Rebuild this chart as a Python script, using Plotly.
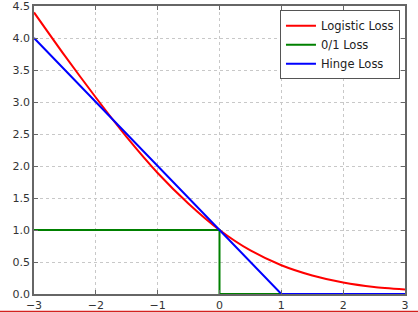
import plotly.graph_objects as go

# Logistic loss
x_log = [-3.0, -2.5, -2.0, -1.5, -1.0, -0.5, 0.0, 0.5, 1.0, 1.5, 2.0, 2.5, 3.0]
y_log = [4.40, 3.72, 3.07, 2.45, 1.89, 1.41, 1.00, 0.68, 0.45, 0.29, 0.18, 0.11, 0.07]

# 0/1 loss
x_01 = [-3, 0, 0, 3]
y_01 = [1, 1, 0, 0]

# Hinge loss
x_hinge = [-3, 1, 3]
y_hinge = [4, 0, 0]

x_ticks = [-3, -2, -1, 0, 1, 2, 3]
x_tick_text = ["\u22123", "\u22122", "\u22121", "0", "1", "2", "3"]
y_ticks = [0.0, 0.5, 1.0, 1.5, 2.0, 2.5, 3.0, 3.5, 4.0, 4.5]
y_tick_text = ["%.1f" % v for v in y_ticks]

FONT = "DejaVu Sans"

fig = go.Figure()
fig.add_trace(go.Scatter(x=x_log, y=y_log, mode="lines", name="Logistic Loss",
                         line=dict(color="#ff0000", width=2, shape="spline", smoothing=0.6)))
fig.add_trace(go.Scatter(x=x_01, y=y_01, mode="lines", name="0/1 Loss",
                         line=dict(color="#008000", width=2)))
fig.add_trace(go.Scatter(x=x_hinge, y=y_hinge, mode="lines", name="Hinge Loss",
                         line=dict(color="#0000ff", width=2)))

axis_common = dict(
    showline=True, linecolor="#666666", linewidth=1.5, mirror="ticks",
    ticks="inside", ticklen=4, tickcolor="#666666",
    showgrid=True, gridcolor="#c8c8c8", griddash="dot", gridwidth=1,
    zeroline=False, automargin=False, ticklabeloverflow="allow",
    tickfont=dict(family=FONT, size=11, color="#333333"),
)

fig.update_layout(
    template="none",
    width=418, height=313,
    margin=dict(l=34, r=13, t=6, b=19),
    paper_bgcolor="white", plot_bgcolor="white",
    xaxis=dict(range=[-3, 3], tickvals=x_ticks, ticktext=x_tick_text, **axis_common),
    yaxis=dict(range=[0, 4.5], tickvals=y_ticks, ticktext=y_tick_text, **axis_common),
    legend=dict(x=0.663, y=0.985, xanchor="left", yanchor="top",
                bgcolor="white", bordercolor="#555555", borderwidth=1,
                font=dict(family=FONT, size=11.5, color="#222222"),
                tracegroupgap=0),
    showlegend=True,
    shapes=[dict(type="line", xref="paper", yref="paper",
                 x0=-0.2, x1=1.2, y0=-0.0608, y1=-0.0608,
                 line=dict(color="#d42020", width=1.5))],
)

fig.write_html("out.html")
